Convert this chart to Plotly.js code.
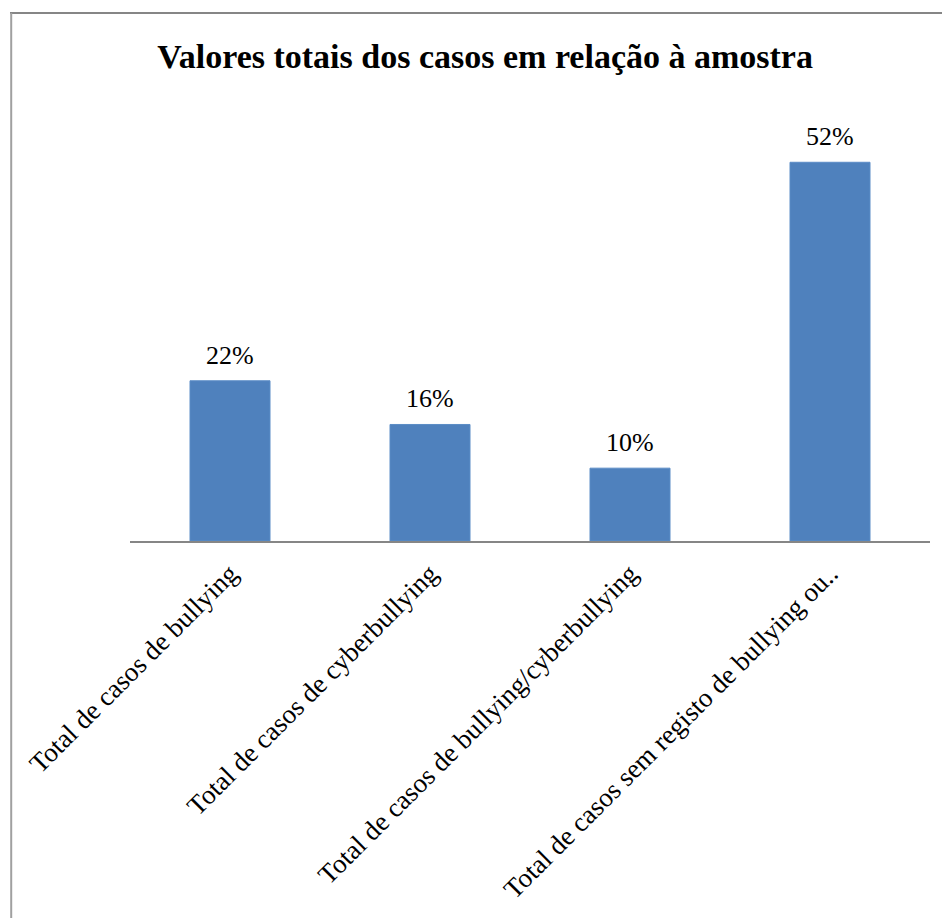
<!DOCTYPE html>
<html>
<head>
<meta charset="utf-8">
<script src="https://cdn.plot.ly/plotly-3.0.1.min.js"></script>
<style>html,body{margin:0;padding:0;background:#fff;}#chart{width:942px;height:918px;}</style>
</head>
<body>
<div id="chart"></div>
<script>
const categories = [
  "Total de casos de bullying",
  "Total de casos de cyberbullying",
  "Total de casos de bullying/cyberbullying",
  "Total de casos sem registo de bullying ou.."
];
const values = [22, 16, 10, 52];
const labels = ["22%", "16%", "10%", "52%"];

const FONT = "Liberation Serif, Times New Roman, serif";

const trace = {
  type: "bar",
  x: categories,
  y: values,
  marker: {color: "#4F81BD", line: {color: "#5B8CC6", width: 1}},
  width: 0.4,
  hoverinfo: "none"
};

const annotations = categories.map((c, i) => ({
  x: c, y: values[i], xref: "x", yref: "y",
  text: labels[i], showarrow: false,
  xanchor: "center", yanchor: "bottom", yshift: 9,
  font: {family: FONT, size: 26, color: "#000"}
}));

const layout = {
  width: 942,
  height: 918,
  margin: {l: 130, r: 12, t: 104, b: 377},
  paper_bgcolor: "#fff",
  plot_bgcolor: "#fff",
  showlegend: false,
  title: {
    text: "<b>Valores totais dos casos em relação à amostra</b>",
    font: {family: FONT, size: 34, color: "#000"},
    x: 0.515, xanchor: "center", y: 0.939, yanchor: "middle"
  },
  xaxis: {
    type: "category",
    tickangle: -45,
    tickfont: {family: FONT, size: 27, color: "#000"},
    showline: true, linecolor: "#868686", linewidth: 2,
    ticks: "outside", ticklen: 4, tickcolor: "rgba(0,0,0,0)",
    showgrid: false, zeroline: false,
    automargin: false
  },
  yaxis: {
    range: [0, 60],
    visible: false,
    showgrid: false, zeroline: false
  },
  annotations: annotations,
  shapes: [
    {type: "line", xref: "paper", yref: "paper",
     x0: -0.15, x1: 1.03, y0: 1.208, y1: 1.208,
     line: {color: "#868686", width: 2}, layer: "below"},
    {type: "line", xref: "paper", yref: "paper",
     x0: -0.1485, x1: -0.1485, y0: -1.0, y1: 1.208,
     line: {color: "#A0A0A0", width: 2}, layer: "below"}
  ]
};

Plotly.newPlot("chart", [trace], layout, {staticPlot: true, displayModeBar: false});
</script>
</body>
</html>
